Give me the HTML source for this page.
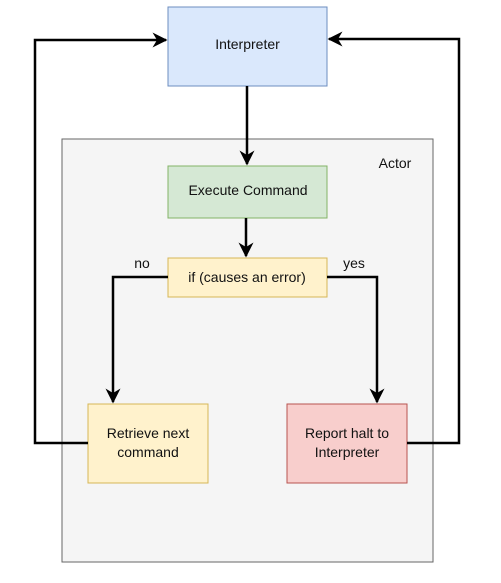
<!DOCTYPE html>
<html><head><style>
body{margin:0;background:#fff;}
svg text{font-family:"Liberation Sans",Arial,sans-serif;font-size:14px;fill:#111;}
</style></head><body>
<svg width="501" height="578" viewBox="0 0 501 578" xmlns="http://www.w3.org/2000/svg">
<defs><marker id="a" viewBox="0 0 10 10" refX="9" refY="5" markerWidth="6" markerHeight="6" orient="auto"><path d="M0,0 L10,5 L0,10 L3,5 Z" fill="#000"/></marker></defs>
<rect x="168" y="7" width="159" height="79" fill="#dae8fc" stroke="#6c8ebf"/>
<text x="247.5" y="49" text-anchor="middle">Interpreter</text>
<rect x="62" y="139" width="371" height="423" fill="#f5f5f5" stroke="#666"/>
<text x="395" y="168" text-anchor="middle">Actor</text>
<rect x="168" y="166" width="159" height="52" fill="#d5e8d4" stroke="#82b366"/>
<text x="248" y="195" text-anchor="middle">Execute Command</text>
<rect x="168" y="258" width="159" height="39" fill="#fff2cc" stroke="#d6b656"/>
<text x="247" y="282" text-anchor="middle">if (causes an error)</text>
<text x="142" y="268" text-anchor="middle">no</text>
<text x="354" y="268" text-anchor="middle">yes</text>
<rect x="88" y="404" width="120" height="79" fill="#fff2cc" stroke="#d6b656"/>
<text x="148" y="438" text-anchor="middle">Retrieve next</text>
<text x="148" y="457" text-anchor="middle">command</text>
<rect x="287" y="404" width="120" height="79" fill="#f8cecc" stroke="#b85450"/>
<text x="347" y="438" text-anchor="middle">Report halt to</text>
<text x="347" y="457" text-anchor="middle">Interpreter</text>
<g fill="none" stroke="#000" stroke-width="2.5">
<path d="M247,86 V164" marker-end="url(#a)"/>
<path d="M246,218 V256" marker-end="url(#a)"/>
<path d="M168,277 H113 V402" marker-end="url(#a)"/>
<path d="M327,277 H377 V402" marker-end="url(#a)"/>
<path d="M88,443 H35 V40 H166" marker-end="url(#a)"/>
<path d="M407,443 H459 V39 H329" marker-end="url(#a)"/>
</g>
</svg>
</body></html>
